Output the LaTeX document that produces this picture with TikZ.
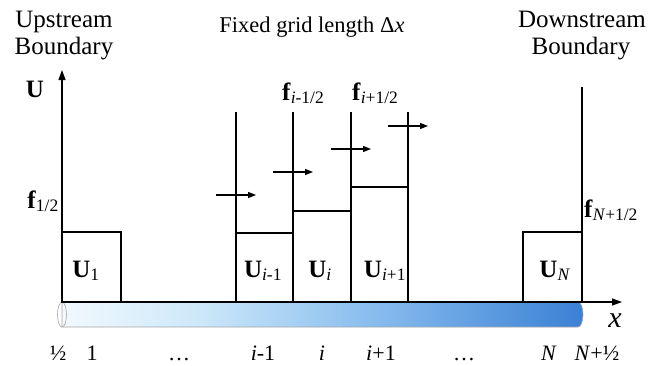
\documentclass[tikz,border=0pt]{standalone}
\usepackage{fontspec}
\setmainfont{Liberation Serif}
\usetikzlibrary{arrows.meta}
\definecolor{pipeA}{RGB}{242,249,254}
\definecolor{pipeB}{RGB}{205,232,249}
\definecolor{pipeC}{RGB}{135,188,238}
\definecolor{pipeD}{RGB}{58,128,212}
\pgfdeclarehorizontalshading{pipe}{100bp}{color(0bp)=(pipeA); color(25bp)=(pipeA); color(38bp)=(pipeB); color(55bp)=(pipeC); color(75bp)=(pipeD); color(100bp)=(pipeD)}
\newcommand{\vb}[1]{\textbf{#1}}

\begin{document}
\begin{tikzpicture}[x=1pt, y=1pt,
    wall/.style={line width=1.2pt},
    flux/.style={-{Triangle[length=8pt,width=6pt]}, line width=1.2pt},
    axis/.style={-{Triangle[length=10pt,width=7pt]}, line width=1.2pt},
    big/.style={font=\fontsize{25}{27}\selectfont},
    idx/.style={font=\fontsize{22}{24}\selectfont, anchor=base, inner sep=0pt}
]
    \useasboundingbox (0,0) rectangle (650,365);

    \shade[shading=pipe, draw=gray!70, line width=0.6pt] (62,63) -- (578,63) arc[start angle=90, end angle=-90, x radius=5, y radius=12.5] -- (62,38) -- cycle;
    \draw[gray!70, line width=0.6pt] (62,50.5) ellipse[x radius=4.5, y radius=12.5];

    \coordinate (o) at (62,63);
    \coordinate (utop) at (62,295);
    \coordinate (xend) at (622,63);
    \coordinate (rb) at (582,63);
    \coordinate (rt) at (582,278);

    \draw[wall] (62,63) rectangle (121,133);
    \draw[wall] (523,63) rectangle (582,133);
    \draw[wall] (rb) -- (rt);

    \foreach \n/\x in {a/236, b/293, c/351, d/408} {
        \coordinate (w\n b) at (\x,63);
        \coordinate (w\n t) at (\x,253);
        \draw[wall] (w\n b) -- (w\n t);
    }
    \draw[wall] (236,132) -- (293,132);
    \draw[wall] (293,154) -- (351,154);
    \draw[wall] (351,178) -- (408,178);

    \foreach \n/\x/\y in {a/236/170, b/293/193, c/351/216, d/408/239} {
        \coordinate (f\n s) at (\x-20,\y);
        \coordinate (f\n e) at (\x+20,\y);
        \draw[flux] (f\n s) -- (f\n e);
    }

    \draw[axis] (o) -- (utop);
    \draw[axis] (o) -- (xend);

    \node[big, anchor=base] (up1) at (64,337) {Upstream};
    \node[big, anchor=base] (up2) at (64,310) {Boundary};
    \node[big, anchor=base] (dn1) at (582,337) {Downstream};
    \node[big, anchor=base] (dn2) at (581,310) {Boundary};
    \node[font=\fontsize{22.5}{24}\selectfont, anchor=base] (grid) at (312,332) {Fixed grid length Δ\textit{x}};

    \node[big, anchor=base] (ulab) at (35,268) {\vb{U}};
    \node[font=\fontsize{30}{32}\selectfont, anchor=base] (xlab) at (615,38) {\textit{x}};

    \node[big, anchor=base east, inner sep=1pt] (fl) at (60,157) {\vb{f}\textsubscript{1/2}};
    \node[big, anchor=base west, inner sep=0pt] (fim) at (282,265) {\vb{f}\textsubscript{\textit{i}-1/2}};
    \node[big, anchor=base west, inner sep=0pt] (fip) at (352,265) {\vb{f}\textsubscript{\textit{i}+1/2}};
    \node[big, anchor=base west, inner sep=0pt] (fn) at (584,148) {\vb{f}\textsubscript{\textit{N}+1/2}};

    \node[big, anchor=base] (u1) at (86,88) {\vb{U}\textsubscript{1}};
    \node[big, anchor=base] (uim) at (263,88) {\vb{U}\textsubscript{\textit{i}-1}};
    \node[big, anchor=base] (ui) at (320,88) {\vb{U}\textsubscript{\textit{i}}};
    \node[big, anchor=base] (uip) at (385,88) {\vb{U}\textsubscript{\textit{i}+1}};
    \node[big, anchor=base] (un) at (555,88) {\vb{U}\textsubscript{\textit{N}}};

    \node[idx] (ia) at (58,5) {½};
    \node[idx] (ib) at (92,5) {1};
    \node[idx] (ic) at (179,5) {…};
    \node[idx] (id) at (263,5) {\textit{i}-1};
    \node[idx] (ie) at (322,5) {\textit{i}};
    \node[idx] (if) at (381,5) {\textit{i}+1};
    \node[idx] (ig) at (464,5) {…};
    \node[idx] (ih) at (549,5) {\textit{N}};
    \node[idx] (ii) at (597,5) {\textit{N}+½};
\end{tikzpicture}
\end{document}
